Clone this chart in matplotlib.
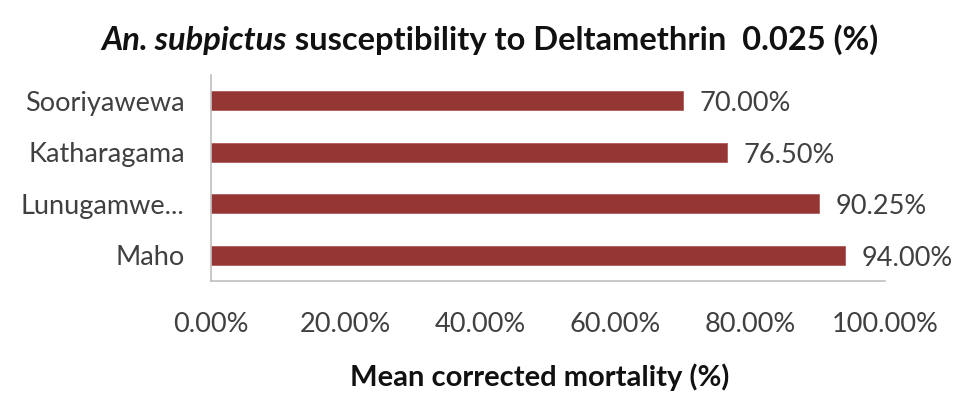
import matplotlib
matplotlib.use("Agg")
import matplotlib.pyplot as plt
from matplotlib.ticker import FuncFormatter

plt.rcParams['font.family'] = ['Lato', 'DejaVu Sans']

sites = ["Maho", "Lunugamwe...", "Katharagama", "Sooriyawewa"]
mortality = [94.00, 90.25, 76.50, 70.00]
xticks = [0, 20, 40, 60, 80, 100]
title_it = "An. subpictus"
title_rest = " susceptibility to Deltamethrin  0.025 (%)"

fig = plt.figure(figsize=(9.61, 3.97), dpi=100)
ax = fig.add_axes([0.2196, 0.292, 0.7014, 0.519])

bar_color = "#943634"
ypos = list(range(len(sites)))
ax.barh(ypos, mortality, height=0.37, color=bar_color, edgecolor="#b05a58", linewidth=0.6)
ax.set_ylim(-0.5, len(sites) - 0.5)
ax.set_xlim(0, 100)
ax.set_yticks(ypos)
ax.set_yticklabels(sites)
ax.set_xticks(xticks)
ax.xaxis.set_major_formatter(FuncFormatter(lambda v, p: f"{v:.2f}%"))

for y, v in zip(ypos, mortality):
    ax.annotate(f"{v:.2f}%", xy=(v, y), xytext=(12, -2), textcoords="offset points",
                va="center", ha="left", fontsize=19.5, color="#404040")

for s in ["top", "right"]:
    ax.spines[s].set_visible(False)
for s in ["left", "bottom"]:
    ax.spines[s].set_color("#bfbfbf")
    ax.spines[s].set_linewidth(1.2)
ax.tick_params(axis="both", length=0, labelsize=19.5, labelcolor="#404040")
ax.tick_params(axis="y", pad=19)
ax.tick_params(axis="x", pad=22)

xl = ax.set_xlabel("Mean corrected mortality (%)", fontsize=21, fontweight="bold",
                   color="#111111")
xl.set_verticalalignment("center")
ax.xaxis.set_label_coords(0.487, -0.465)

# Title: italic bold part followed by bold part, centred as a whole
fig.canvas.draw()
renderer = fig.canvas.get_renderer()
t1 = fig.text(0, 0.899, title_it, ha="left", va="center", fontsize=23.5,
              fontweight="bold", fontstyle="italic", color="#111111")
t2 = fig.text(0, 0.899, title_rest, ha="left", va="center", fontsize=23.5,
              fontweight="bold", color="#111111")
w1 = t1.get_window_extent(renderer).width
w2 = t2.get_window_extent(renderer).width
W = fig.get_figwidth() * fig.dpi
cx = 0.51 * W
x0 = cx - (w1 + w2) / 2
t1.set_x(x0 / W)
t2.set_x((x0 + w1) / W)

fig.savefig("out.png", dpi=100)
